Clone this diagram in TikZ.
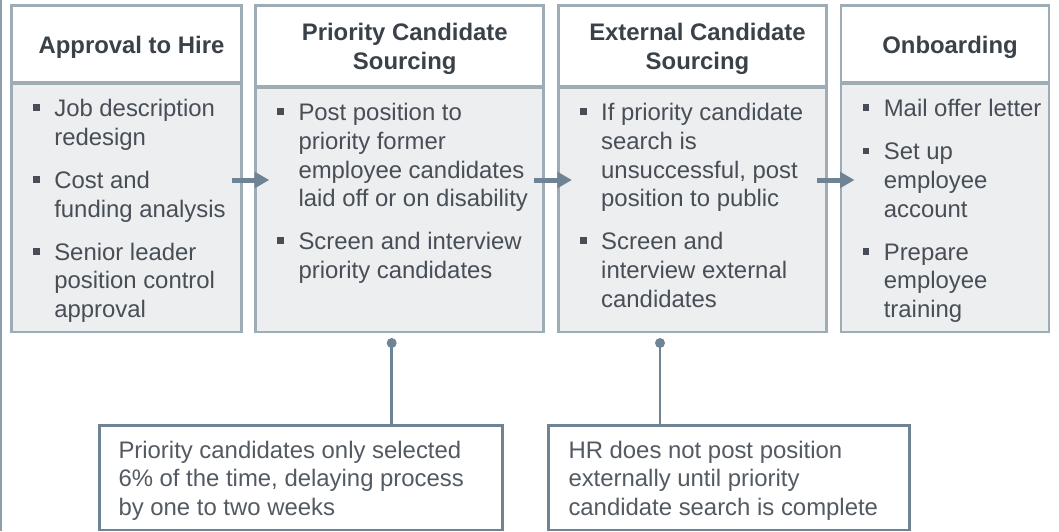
\documentclass[tikz,border=0pt]{standalone}
\usepackage{fontspec}
\setmainfont{Liberation Sans}
\usepackage{xcolor}
\usetikzlibrary{arrows.meta}
\usetikzlibrary{calc}
\usetikzlibrary{positioning}

\definecolor{frameline}{HTML}{9EACB6}
\definecolor{panelfill}{HTML}{ECEEF0}
\definecolor{flowline}{HTML}{6E8394}
\definecolor{titlegray}{HTML}{3B4148}
\definecolor{itemgray}{HTML}{474E55}
\definecolor{notegray}{HTML}{535A62}
\definecolor{edgegray}{HTML}{8D9EAB}

% one bullet point with a hanging indent
\newcommand{\taskitem}[1]{\par\hangindent=21.3pt\hangafter=1\noindent\makebox[21.3pt][l]{\rule[5.8pt]{6.6pt}{6.6pt}}#1\par}
% block of bullet points, baseline at the first line
\newcommand{\tasklist}[1]{\begin{minipage}[t]{260pt}\setlength{\parskip}{14.6pt}\rightskip=0pt plus 1fil\relax #1\end{minipage}}
% plain text block for the call-outs
\newcommand{\noteblock}[1]{\begin{minipage}[t]{380pt}\rightskip=0pt plus 1fil\relax #1\end{minipage}}

\tikzset{
	stagehead/.style={draw=frameline, line width=2.7pt, fill=white, anchor=north west, inner sep=0pt, outer sep=0pt},
	stagepanel/.style={draw=frameline, line width=2.7pt, fill=panelfill, anchor=north west, inner sep=0pt, outer sep=0pt},
	divider/.style={draw=frameline, line width=4.7pt},
	stagetitle/.style={font=\bfseries\fontsize{23.9}{28.9}\selectfont, text=titlegray, align=center, inner sep=0pt},
	stageitems/.style={font=\fontsize{23.9}{28.6}\selectfont, text=itemgray, anchor=base west, inner sep=0pt},
	flowarrow/.style={draw=flowline, line width=5pt, -{Triangle[length=14.5pt,width=15.5pt]}},
	notebox/.style={draw=flowline, line width=2.7pt, fill=white, anchor=north west, inner sep=0pt, outer sep=0pt},
	notelabel/.style={font=\fontsize{23.9}{28.6}\selectfont, text=notegray, anchor=base west, inner sep=0pt},
	calloutline/.style={draw=flowline, line width=2.6pt},
	edgeline/.style={draw=edgegray, line width=2pt}
}

\begin{document}
\begin{tikzpicture}[x=1pt,y=-1pt]
	\useasboundingbox (0,0) rectangle (1059,531);
	
	% thin rule along the left edge
	\draw[edgeline] (1,0) -- (1,531);
	
	% stage boxes: white title part over a grey panel
	\node[stagehead, minimum width=230pt, minimum height=77.5pt] (h1) at (11.5,5.4) {};
	\node[stagepanel, minimum width=230pt, minimum height=249.1pt] (b1) at (h1.south west) {};
	\node[stagehead, minimum width=288.1pt, minimum height=81.6pt] (h2) at (255.7,5.4) {};
	\node[stagepanel, minimum width=288.1pt, minimum height=245pt] (b2) at (h2.south west) {};
	\node[stagehead, minimum width=268.2pt, minimum height=81.6pt] (h3) at (558.4,5.4) {};
	\node[stagepanel, minimum width=268.2pt, minimum height=245pt] (b3) at (h3.south west) {};
	\node[stagehead, minimum width=208pt, minimum height=77.5pt] (h4) at (841,5.4) {};
	\node[stagepanel, minimum width=208pt, minimum height=249.1pt] (b4) at (h4.south west) {};
	
	% heavier line between title and panel
	\draw[divider] (h1.south west) -- (h1.south east);
	\draw[divider] (h2.south west) -- (h2.south east);
	\draw[divider] (h3.south west) -- (h3.south east);
	\draw[divider] (h4.south west) -- (h4.south east);
	
	% titles
	\node[stagetitle] (t1) at ([xshift=5pt,yshift=-3pt]h1.center) {Approval to Hire};
	\node[stagetitle] (t2) at ([xshift=5pt,yshift=-3pt]h2.center) {Priority Candidate\\Sourcing};
	\node[stagetitle] (t3) at ([xshift=5pt,yshift=-3pt]h3.center) {External Candidate\\Sourcing};
	\node[stagetitle] (t4) at ([xshift=5pt,yshift=-3pt]h4.center) {Onboarding};
	
	% bullet points
	\node[stageitems] (l1) at ($(b1.north west)+(21.3,33.8)$) {\tasklist{%
		\taskitem{Job description\\redesign}%
		\taskitem{Cost and\\funding analysis}%
		\taskitem{Senior leader\\position control\\approval}}};
	\node[stageitems] (l2) at ($(b2.north west)+(21.3,33.8)$) {\tasklist{%
		\taskitem{Post position to\\priority former\\employee candidates\\laid off or on disability}%
		\taskitem{Screen and interview\\priority candidates}}};
	\node[stageitems] (l3) at ($(b3.north west)+(21.3,33.8)$) {\tasklist{%
		\taskitem{If priority candidate\\search is\\unsuccessful, post\\position to public}%
		\taskitem{Screen and\\interview external\\candidates}}};
	\node[stageitems] (l4) at ($(b4.north west)+(21.3,33.8)$) {\tasklist{%
		\taskitem{Mail offer letter}%
		\taskitem{Set up\\employee\\account}%
		\taskitem{Prepare\\employee\\training}}};
	
	% arrows from stage to stage
	\coordinate (flow) at (0,180);
	\draw[flowarrow] ($(b1.east |- flow)+(-9.5,0)$) -- ($(b2.west |- flow)+(13.5,0)$);
	\draw[flowarrow] ($(b2.east |- flow)+(-9.5,0)$) -- ($(b3.west |- flow)+(13.5,0)$);
	\draw[flowarrow] ($(b3.east |- flow)+(-9.5,0)$) -- ($(b4.west |- flow)+(13.5,0)$);
	
	% call-outs below the two sourcing stages
	\node[notebox, minimum width=403.4pt, minimum height=104.3pt] (n1) at (99.3,425.7) {};
	\node[notebox, minimum width=361pt, minimum height=104.3pt] (n2) at (548.3,425.7) {};
	\node[notelabel] (n1text) at ($(n1.north west)+(19,32.3)$) {\noteblock{Priority candidates only selected\\6\% of the time, delaying process\\by one to two weeks}};
	\node[notelabel] (n2text) at ($(n2.north west)+(20,32.3)$) {\noteblock{HR does not post position\\externally until priority\\candidate search is complete}};
	
	\coordinate (pin1) at (391.7,343);
	\coordinate (pin2) at (660,343);
	\draw[calloutline] (pin1) -- (pin1 |- n1.north);
	\draw[calloutline] (pin2) -- (pin2 |- n2.north);
	\fill[flowline] (pin1) circle (5pt);
	\fill[flowline] (pin2) circle (5pt);
\end{tikzpicture}
\end{document}
